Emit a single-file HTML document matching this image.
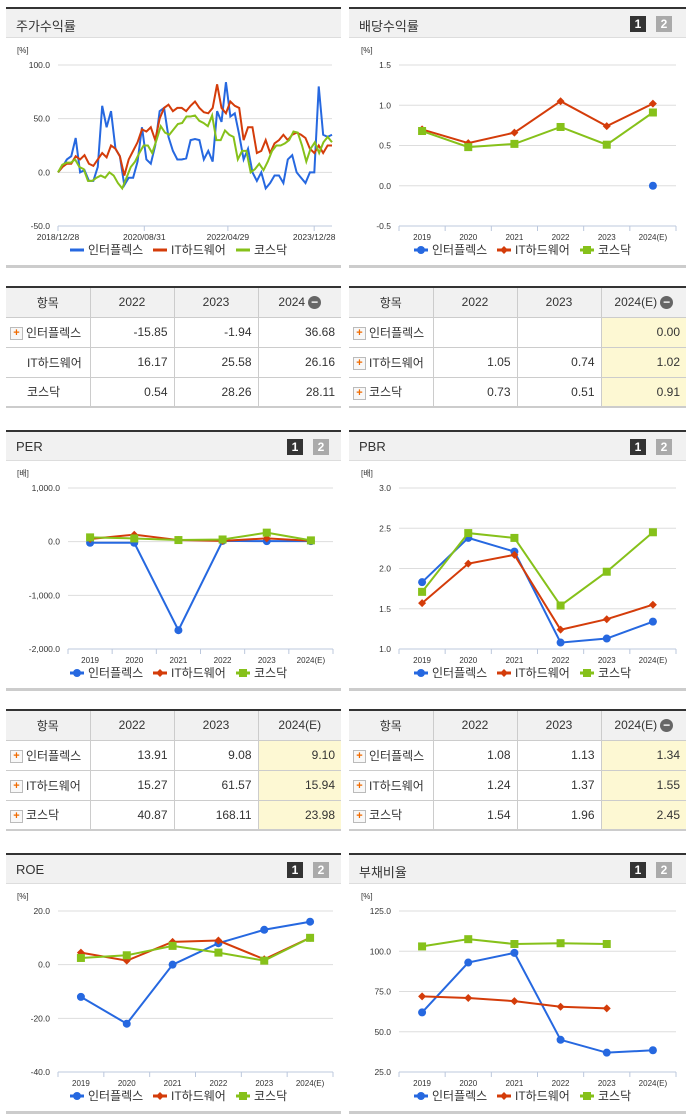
<!DOCTYPE html>
<html><head><meta charset="utf-8">
<style>
body{margin:0;width:691px;height:1115px;background:#fff;position:relative;overflow:hidden;font-family:"Liberation Sans","Noto Sans CJK KR",sans-serif;}
.hd{position:absolute;height:31px;background:#f1f1f1;border-top:2px solid #333;border-bottom:1px solid #ddd;font-size:13px;color:#333;box-sizing:border-box;}
.hd span.t{position:absolute;left:10px;top:7px;}
.b{position:absolute;top:7px;width:16px;height:16px;font-size:12px;font-weight:bold;color:#fff;text-align:center;line-height:16px;}
.pb{position:absolute;height:3px;background:#ccc;}
table{position:absolute;border-collapse:collapse;font-size:12px;color:#333;border-top:2px solid #333;border-bottom:2px solid #ccc;}
td,th{border:1px solid #ccc;height:30px;padding:0 6px;box-sizing:border-box;}
th{background:#f1f1f1;font-weight:normal;font-size:12px;}
td{text-align:right;}
td.n{text-align:left;padding-left:4px;}
tr td:first-child,tr th:first-child{border-left:none}
tr td:last-child,tr th:last-child{border-right:none}
.y{background:#fdf8d3}
.pl{display:inline-block;width:11px;height:11px;border:1px solid #bbb;background:#f8f8f8;color:#f06a00;font-size:11px;line-height:10px;text-align:center;font-weight:bold;vertical-align:middle;margin-right:3px;}
.mi{display:inline-block;width:13px;height:13px;border-radius:50%;background:#666;color:#fff;font-size:12px;line-height:12px;text-align:center;vertical-align:middle;margin-left:3px;font-weight:bold;}
svg{position:absolute;left:0;top:0}
</style></head><body>
<div class="hd" style="left:6px;top:7px;width:335px;"><span class="t">주가수익률</span></div>
<div class="hd" style="left:349px;top:7px;width:337px;"><span class="t">배당수익률</span><span class="b" style="left:281px;background:#333">1</span><span class="b" style="left:307px;background:#aaa">2</span></div>
<div class="hd" style="left:6px;top:430px;width:335px;"><span class="t">PER</span><span class="b" style="left:281px;background:#333">1</span><span class="b" style="left:307px;background:#aaa">2</span></div>
<div class="hd" style="left:349px;top:430px;width:337px;"><span class="t">PBR</span><span class="b" style="left:281px;background:#333">1</span><span class="b" style="left:307px;background:#aaa">2</span></div>
<div class="hd" style="left:6px;top:853px;width:335px;"><span class="t">ROE</span><span class="b" style="left:281px;background:#333">1</span><span class="b" style="left:307px;background:#aaa">2</span></div>
<div class="hd" style="left:349px;top:853px;width:337px;"><span class="t">부채비율</span><span class="b" style="left:281px;background:#333">1</span><span class="b" style="left:307px;background:#aaa">2</span></div>
<div class="pb" style="left:6px;top:265px;width:335px"></div>
<div class="pb" style="left:349px;top:265px;width:337px"></div>
<div class="pb" style="left:6px;top:688px;width:335px"></div>
<div class="pb" style="left:349px;top:688px;width:337px"></div>
<div class="pb" style="left:6px;top:1111px;width:335px"></div>
<div class="pb" style="left:349px;top:1111px;width:337px"></div>

<table style="left:6px;top:286px;width:335px">
<colgroup><col style="width:84px"><col style="width:84px"><col style="width:84px"><col></colgroup>
<tr><th>항목</th><th>2022</th><th>2023</th><th>2024<span class="mi">−</span></th></tr>
<tr><td class="n"><span class="pl">+</span>인터플렉스</td><td>-15.85</td><td>-1.94</td><td>36.68</td></tr>
<tr><td class="n" style="padding-left:21px">IT하드웨어</td><td>16.17</td><td>25.58</td><td>26.16</td></tr>
<tr><td class="n" style="padding-left:21px">코스닥</td><td>0.54</td><td>28.26</td><td>28.11</td></tr>
</table>
<table style="left:349px;top:286px;width:337px">
<colgroup><col style="width:84px"><col style="width:84px"><col style="width:84px"><col></colgroup>
<tr><th>항목</th><th>2022</th><th>2023</th><th>2024(E)<span class="mi">−</span></th></tr>
<tr><td class="n"><span class="pl">+</span>인터플렉스</td><td></td><td></td><td class="y">0.00</td></tr>
<tr><td class="n"><span class="pl">+</span>IT하드웨어</td><td>1.05</td><td>0.74</td><td class="y">1.02</td></tr>
<tr><td class="n"><span class="pl">+</span>코스닥</td><td>0.73</td><td>0.51</td><td class="y">0.91</td></tr>
</table>
<table style="left:6px;top:709px;width:335px">
<colgroup><col style="width:84px"><col style="width:84px"><col style="width:84px"><col></colgroup>
<tr><th>항목</th><th>2022</th><th>2023</th><th>2024(E)</th></tr>
<tr><td class="n"><span class="pl">+</span>인터플렉스</td><td>13.91</td><td>9.08</td><td class="y">9.10</td></tr>
<tr><td class="n"><span class="pl">+</span>IT하드웨어</td><td>15.27</td><td>61.57</td><td class="y">15.94</td></tr>
<tr><td class="n"><span class="pl">+</span>코스닥</td><td>40.87</td><td>168.11</td><td class="y">23.98</td></tr>
</table>
<table style="left:349px;top:709px;width:337px">
<colgroup><col style="width:84px"><col style="width:84px"><col style="width:84px"><col></colgroup>
<tr><th>항목</th><th>2022</th><th>2023</th><th>2024(E)<span class="mi">−</span></th></tr>
<tr><td class="n"><span class="pl">+</span>인터플렉스</td><td>1.08</td><td>1.13</td><td class="y">1.34</td></tr>
<tr><td class="n"><span class="pl">+</span>IT하드웨어</td><td>1.24</td><td>1.37</td><td class="y">1.55</td></tr>
<tr><td class="n"><span class="pl">+</span>코스닥</td><td>1.54</td><td>1.96</td><td class="y">2.45</td></tr>
</table>

<svg id="s" width="691" height="1115" font-family="Liberation Sans, Noto Sans CJK KR, sans-serif"></svg>
<script>
const names=['인터플렉스','IT하드웨어','코스닥'];
const cats=['2019','2020','2021','2022','2023','2024(E)'];
const retDates=['2018/12/28','2020/08/31','2022/04/29','2023/12/28'];
const retBlue=[0,5,12,15,32,0,2,-8,-8,5,62,42,57,22,15,-12,-5,-5,10,42,12,8,25,57,60,33,20,12,12,13,30,31,30,12,20,10,57,47,84,52,55,35,12,22,0,-8,0,-15,-10,-3,-3,-10,12,16,0,-5,-10,0,0,80,35,33,35];
const retRed=[0,5,8,8,15,12,16,8,6,12,18,14,25,22,15,-3,12,20,28,40,38,42,30,50,60,63,57,60,60,57,62,66,60,56,55,60,82,60,55,66,62,60,30,42,42,18,20,30,18,27,30,35,30,35,37,35,32,22,18,25,18,25,25];
const retGreen=[0,7,9,9,12,5,3,-8,-8,-5,-3,-5,0,-3,-10,-15,-5,5,10,18,25,25,18,30,43,37,35,40,45,46,52,52,53,48,46,43,53,30,30,39,35,33,12,20,20,0,3,8,2,10,20,25,25,27,30,38,37,25,10,22,28,18,28,33,28];
const divBlue=[null,null,null,null,null,0.00];
const divRed=[0.70,0.53,0.66,1.05,0.74,1.02];
const divGreen=[0.68,0.48,0.52,0.73,0.51,0.91];
const perBlue=[-20,-20,-1650,13.91,9.08,9.10];
const perRed=[50,130,30,15.27,61.57,15.94];
const perGreen=[80,60,30,40.87,168.11,23.98];
const pbrBlue=[1.83,2.38,2.21,1.08,1.13,1.34];
const pbrRed=[1.57,2.06,2.17,1.24,1.37,1.55];
const pbrGreen=[1.71,2.44,2.38,1.54,1.96,2.45];
const roeBlue=[-12,-22,0,8,13,16];
const roeRed=[4.5,1.5,8.5,9,2,10];
const roeGreen=[2.5,3.5,7,4.5,1.5,10];
const debtBlue=[62,93,99,45,37,38.5];
const debtRed=[72,71,69,65.5,64.5,null];
const debtGreen=[103,107.5,104.5,105,104.5,null];
const ticksRet=[100,50,0,-50], ticksDiv=[1.5,1.0,0.5,0.0,-0.5], ticksPer=[1000,0,-1000,-2000];
const ticksPbr=[3.0,2.5,2.0,1.5,1.0], ticksRoe=[20,0,-20,-40], ticksDebt=[125,100,75,50,25];
const COL=['#2668e0','#d43c0a','#86c11a'];
const S=document.getElementById('s');const NS='http://www.w3.org/2000/svg';
function mk(t,a){const e=document.createElementNS(NS,t);for(const k in a)e.setAttribute(k,a[k]);S.appendChild(e);return e;}
function fmt(v,c){return v.toLocaleString('en-US',{minimumFractionDigits:1,maximumFractionDigits:1});}
function chart(o){
 const yS=v=>o.yt+(o.ticks[0]-v)/(o.ticks[0]-o.ticks[o.ticks.length-1])*(o.yb-o.yt);
 const u=mk('text',{x:o.ux,y:o.yt-12,'font-size':8,fill:'#333'});u.textContent=o.unit;
 
 
 o.ticks.forEach(t=>{const y=yS(t);
  const g=mk('line',{x1:o.x0,x2:o.x1,y1:y,y2:y,stroke:'#ddd'});
  
  
  const l=mk('text',{x:o.x0-8,y:y+3,'font-size':8.5,'text-anchor':'end',fill:'#333'});l.textContent=fmt(t);
  
  });
 mk('line',{x1:o.x0,x2:o.x1,y1:o.yb,y2:o.yb,stroke:'#bcc8dd'});
 let xS;
 if(o.series[0].length>6){
  const n=o.series[0].length;xS=(i,len)=>o.x0+i/(len-1)*(o.x1-o.x0);
  const pos=[0,0.315,0.62,0.935];
  retDates.forEach((d,k)=>{const x=o.x0+pos[k]*(o.x1-o.x0);mk('line',{x1:x,x2:x,y1:o.yb,y2:o.yb+5,stroke:'#bcc8dd'});
   const l=mk('text',{x:x,y:o.yb+14,'font-size':8.5,'text-anchor':'middle',fill:'#333'});l.textContent=d;
   
   });
 } else {
  const bw=(o.x1-o.x0)/6;xS=i=>o.x0+bw*(i+0.5);
  for(let k=0;k<=6;k++)mk('line',{x1:o.x0+bw*k,x2:o.x0+bw*k,y1:o.yb,y2:o.yb+5,stroke:'#bcc8dd'});
  cats.forEach((c,i)=>{const l=mk('text',{x:xS(i),y:o.yb+14,'font-size':8,'text-anchor':'middle',fill:'#333'});l.textContent=c;
   
   });
 }
 o.series.forEach((d,s)=>{
  let p='';d.forEach((v,i)=>{if(v!==null)p+=(p?'L':'M')+xS(i,d.length)+' '+yS(v);});
  const ln=mk('path',{d:p,fill:'none',stroke:COL[s],'stroke-width':2});
  
  
  if(d.length<=6)d.forEach((v,i)=>{if(v===null)return;const x=xS(i),y=yS(v);let m;
   if(s==0)m=mk('circle',{cx:x,cy:y,r:4,fill:COL[0]});
   else if(s==1)m=mk('path',{d:`M${x} ${y-4}L${x+4} ${y}L${x} ${y+4}L${x-4} ${y}Z`,fill:COL[1]});
   else m=mk('rect',{x:x-4,y:y-4,width:8,height:8,fill:COL[2]});
   
   });
 });
 const lx=o.lx, ly=o.yb+28;
 const xs=[0,83,166];
 names.forEach((nm,s)=>{const x=lx+xs[s];
  mk('line',{x1:x,x2:x+14,y1:ly-4,y2:ly-4,stroke:COL[s],'stroke-width':3});
  if(o.series[0].length<=6){if(s==0)mk('circle',{cx:x+7,cy:ly-4,r:4,fill:COL[0]});else if(s==1)mk('path',{d:`M${x+7} ${ly-8}L${x+11} ${ly-4}L${x+7} ${ly}L${x+3} ${ly-4}Z`,fill:COL[1]});else mk('rect',{x:x+3,y:ly-8,width:8,height:8,fill:COL[2]});}
  const t=mk('text',{x:x+18,y:ly,'font-size':12,fill:'#333'});t.textContent=nm;
  
  });
}
chart({x0:58,x1:332,yt:65,yb:226,ticks:ticksRet,unit:'[%]',ux:17,series:[retBlue,retRed,retGreen],lx:70});
chart({x0:399,x1:676,yt:65,yb:226,ticks:ticksDiv,unit:'[%]',ux:361,series:[divBlue,divRed,divGreen],lx:414});
chart({x0:68,x1:333,yt:488,yb:649,ticks:ticksPer,unit:'[배]',ux:17,series:[perBlue,perRed,perGreen],lx:70});
chart({x0:399,x1:676,yt:488,yb:649,ticks:ticksPbr,unit:'[배]',ux:361,series:[pbrBlue,pbrRed,pbrGreen],lx:414});
chart({x0:58,x1:333,yt:911,yb:1072,ticks:ticksRoe,unit:'[%]',ux:17,series:[roeBlue,roeRed,roeGreen],lx:70});
chart({x0:399,x1:676,yt:911,yb:1072,ticks:ticksDebt,unit:'[%]',ux:361,series:[debtBlue,debtRed,debtGreen],lx:414});
</script>
</body></html>
